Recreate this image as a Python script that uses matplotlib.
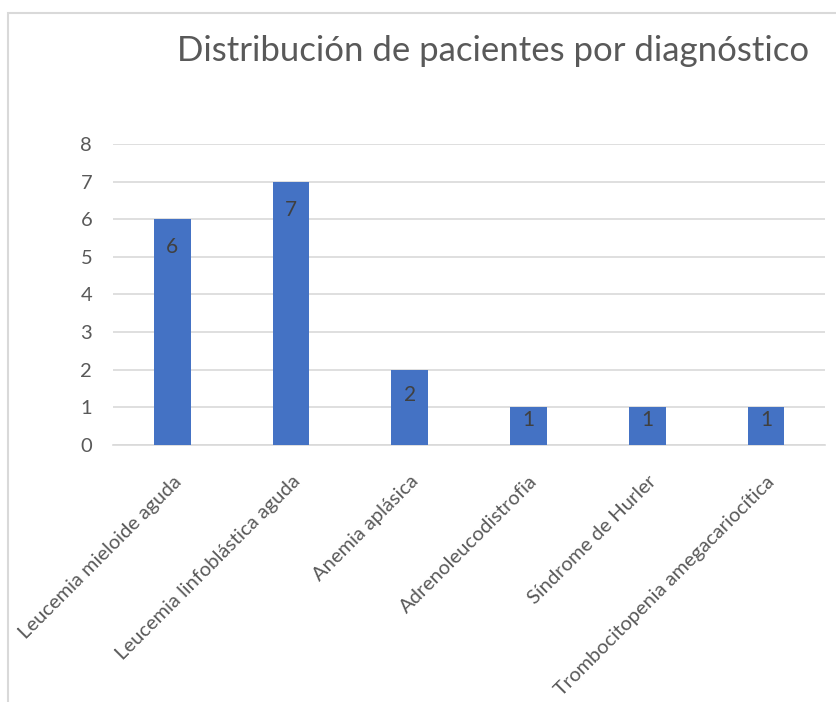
import matplotlib
matplotlib.use("Agg")
import matplotlib.pyplot as plt
from matplotlib.patches import Rectangle

# ------------- DATA -----------------
diagnosticos = [
    "Leucemia mieloide aguda",
    "Leucemia linfoblástica aguda",
    "Anemia aplásica",
    "Adrenoleucodistrofia",
    "Síndrome de Hurler",
    "Trombocitopenia amegacariocítica",
]
pacientes = [6, 7, 2, 1, 1, 1]

titulo = "Distribución de pacientes por diagnóstico"

plt.rcParams["font.family"] = ["Lato", "DejaVu Sans"]

fig = plt.figure(figsize=(8.37, 7.02), dpi=100)
ax = fig.add_axes([0.135, 0.366, 0.851, 0.429])

# marco gris del grafico (recortado a la derecha y abajo)
fig.patches.append(Rectangle((8 / 837, -0.1), 1.2, 1 - 13 / 702 + 0.1,
                             transform=fig.transFigure, fill=False,
                             edgecolor="#d9d9d9", linewidth=1.5))

x = range(len(diagnosticos))
bars = ax.bar(x, pacientes, width=0.31, color="#4472C4", zorder=3)

for xi, v in zip(x, pacientes):
    y = max(v - 0.75, v * 0.66)
    ax.text(xi, y, str(v), ha="center", va="center", fontsize=15,
            color="#404040", zorder=4)

ax.set_xlim(-0.5, len(diagnosticos) - 0.5)
ax.set_ylim(0, 8)
ax.set_yticks(range(0, 9))
ax.grid(axis="y", color="#d9d9d9", linewidth=1.2, zorder=0)
for s in ["top", "right", "left"]:
    ax.spines[s].set_visible(False)
ax.spines["bottom"].set_color("#d9d9d9")
ax.spines["bottom"].set_linewidth(1.2)

ax.tick_params(axis="both", length=0, labelsize=14.5, labelcolor="#595959")
ax.tick_params(axis="y", pad=15)
ax.set_xticks(list(x))
ax.set_xticklabels(diagnosticos, rotation=45, ha="right",
                   rotation_mode="anchor")
ax.tick_params(axis="x", pad=20)

fig.text(0.589, 0.928, titulo, ha="center", va="center", fontsize=25,
         color="#595959")

fig.savefig("out.png", dpi=100)
